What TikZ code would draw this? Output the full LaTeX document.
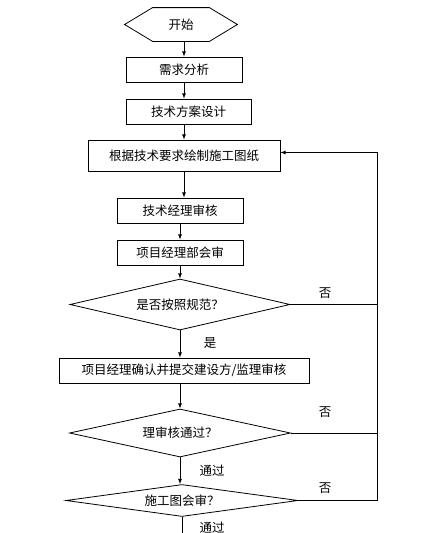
\documentclass[tikz,border=0pt]{standalone}
\usepackage{fontspec}
\setmainfont{Noto Sans CJK SC}
\usepackage{pgf,tikz}
\usetikzlibrary{arrows}
\usetikzlibrary{shapes.geometric}

\begin{document}
\begin{tikzpicture}[
    x=1pt, y=1pt,
    line width=0.8pt,
    font=\fontsize{12.5}{15}\selectfont,
    node/.style={%
      draw,
      rectangle,
      minimum height=25pt,
      inner sep=0pt,
    },
    check/.style={%
      draw,
      diamond,
      aspect=5,
      inner sep=0pt,
    },
    flow/.style={-latex},
  ]
    \useasboundingbox (0,0) rectangle (434,-533);

    \node [minimum width=112pt, minimum height=33pt, inner sep=0pt] (S) at (181,-24.5) {开始};
    \draw (S.west) -- ([xshift=28pt]S.north west) -- ([xshift=-28pt]S.north east) -- (S.east)
      -- ([xshift=-28pt]S.south east) -- ([xshift=28pt]S.south west) -- cycle;
    \path (S) ++(3,-45) node [node, minimum width=116pt] (R) {需求分析};
    \path (R) ++(4.5,-42) node [node, minimum width=125pt] (P) {技术方案设计};
    \path (P) ++(-4.5,-44) node [node, minimum width=192pt, minimum height=31pt] (D) {根据技术要求绘制施工图纸};
    \path (D) ++(-4,-55) node [node, minimum width=126pt] (T) {技术经理审核};
    \path (T) ++(0,-42) node [node, minimum width=126pt] (M) {项目经理部会审};
    \path (M) ++(0,-52) node [check, minimum width=220pt, minimum height=51pt] (C1) {是否按照规范？};
    \path (C1) ++(4,-66) node [node, minimum width=250pt] (K) {项目经理确认并提交建设方/监理审核};
    \path (K) ++(-4,-62.5) node [check, minimum width=221pt, minimum height=48pt] (C2) {理审核通过？};
    \path (C2) ++(2,-67.5) node [check, aspect=7, minimum width=232pt, minimum height=32pt] (C3) {施工图会审？};

    \node (no1) at (325,-293) {否};
    \node (no2) at (325,-412) {否};
    \node (no3) at (325,-488) {否};
    \node (yes) at (210,-343) {是};
    \node (pass1) at (212,-471) {通过};
    \node (pass2) at (212,-528) {通过};

    \coordinate (rail) at (377,-300);
    \coordinate (back) at ([yshift=3pt]D.east);
    \coordinate (out) at (182,-545);

    \draw [flow] (S.south -| R.north) -- (R.north);
    \draw [flow] (R.south) -- (R.south |- P.north);
    \draw [flow] (P.south -| D.north) -- (D.north);
    \draw [flow] (D.south) -- (D.south |- T.north);
    \draw [flow] (T.south) -- (M.north);
    \draw [flow] (M.south) -- (C1.north);
    \draw [flow] (C1.south) -- (C1.south |- K.north);
    \draw [flow] (C2.north |- K.south) -- (C2.north);
    \draw [flow] (C2.south) -- (C2.south |- C3.north);
    \draw (C3.south) -- (C3.south |- out);

    \draw (C1.east) -- (C1.east -| rail);
    \draw (C2.east) -- (C2.east -| rail);
    \draw [flow] (C3.east) -- (C3.east -| rail) -- (rail |- back) -- (back);
\end{tikzpicture}
\end{document}
